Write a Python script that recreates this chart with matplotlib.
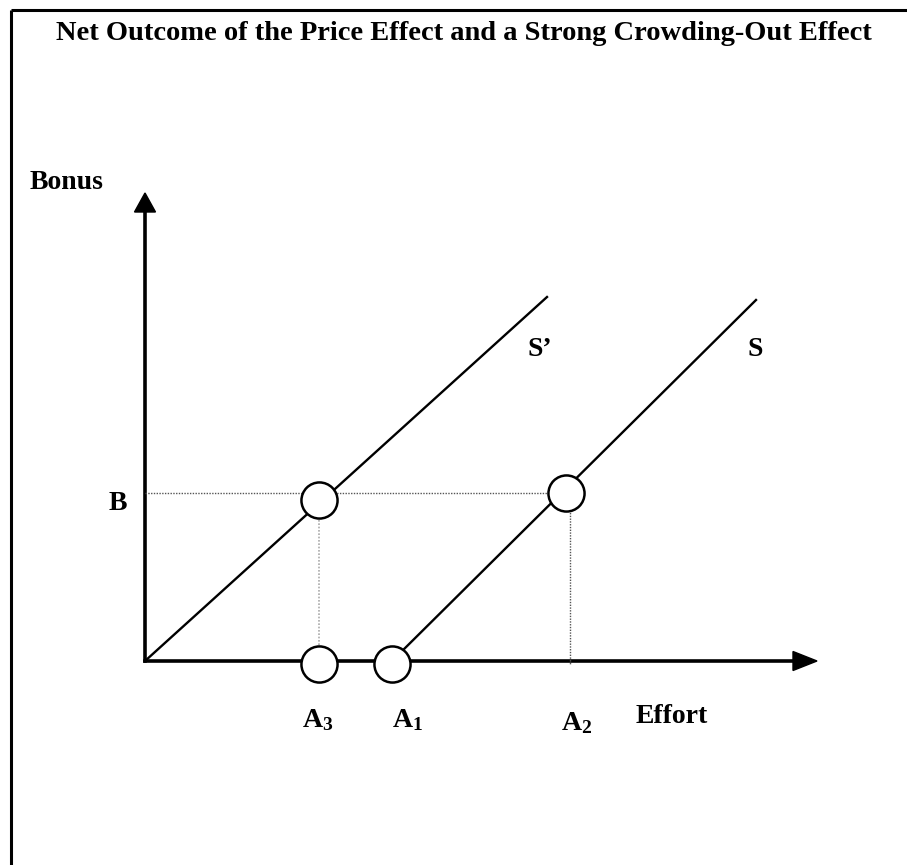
import matplotlib.pyplot as plt

plt.rcParams['font.family'] = ['Liberation Serif', 'DejaVu Serif']
plt.rcParams['font.weight'] = 'bold'
plt.rcParams['mathtext.default'] = 'regular'

# diagram values (effort / bonus units, origin at the axes corner)
title = 'Net Outcome of the Price Effect and a Strong Crowding-Out Effect'
effort_labels = ['A$_3$', 'A$_1$', 'A$_2$']
effort_marks = [174, 247, 425]
bonus_B = 168
s_prime_x = [0, 402]
s_prime_y = [0, 364]
s_x = [247, 611]
s_y = [0, 361]
circle_x = [174, 421, 174, 247]
circle_y = [161, 168, -3, -3]
x_axis_end = 672
y_axis_end = 468

fig = plt.figure(figsize=(9.07, 8.65), dpi=100)
ax = fig.add_axes([0, 0, 1, 1])
ax.set_xlim(-145, 762)
ax.set_ylim(-204, 661)
ax.axis('off')

# frame (top and left only)
ax.plot([-134, 762], [651, 651], color='black', lw=2.2, solid_capstyle='butt')
ax.plot([-134, -134], [651, -204], color='black', lw=2.2, solid_capstyle='butt')

# axes with arrow heads
ax.plot([0, x_axis_end - 20], [0, 0], color='black', lw=2.6)
ax.plot([0, 0], [0, y_axis_end - 15], color='black', lw=2.6)
ax.fill([x_axis_end - 24, x_axis_end, x_axis_end - 24], [-9.5, 0, 9.5], color='black')
ax.fill([-10.5, 0, 10.5], [y_axis_end - 19, y_axis_end, y_axis_end - 19], color='black')

# guide lines
ax.plot([0, circle_x[1]], [bonus_B, bonus_B], color='#555555', lw=1, ls=(0, (1, 1)))
ax.plot([effort_marks[0], effort_marks[0]], [circle_y[0], 0], color='#aaaaaa', lw=1.2, ls=(0, (1, 1)))
ax.plot([effort_marks[2], effort_marks[2]], [bonus_B, -3], color='#555555', lw=1, ls=(0, (1, 1)))

# supply curves
ax.plot(s_prime_x, s_prime_y, color='black', lw=1.7)
ax.plot(s_x, s_y, color='black', lw=1.7)

ax.plot(circle_x, circle_y, 'o', ms=26, mfc='white', mec='black', mew=1.8, zorder=5)

fs = 20
ax.text(319, 621, title, ha='center', va='baseline', fontsize=20.5, fontweight='bold')
ax.text(-42, 472, 'Bonus', ha='right', va='baseline', fontsize=fs, fontweight='bold')
ax.text(-27, 157, 'B', ha='center', va='center', fontsize=fs, fontweight='bold')
ax.text(395, 311, 'S\u2019', ha='center', va='center', fontsize=fs, fontweight='bold')
ax.text(610, 311, 'S', ha='center', va='center', fontsize=fs, fontweight='bold')
label_x = [173, 263, 432]
label_y = [-66, -66, -69]
for lx, ly, lab in zip(label_x, label_y, effort_labels):
    ax.text(lx, ly, lab, ha='center', va='baseline', fontsize=fs, fontweight='bold')
ax.text(527, -62, 'Effort', ha='center', va='baseline', fontsize=fs, fontweight='bold')

fig.savefig('out.png', dpi=100)
